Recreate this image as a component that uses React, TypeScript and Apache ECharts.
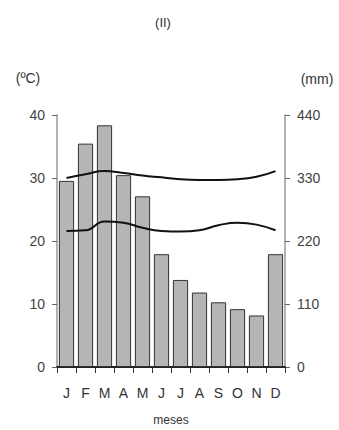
import React, { useEffect, useRef } from "react";
import * as echarts from "echarts";

const months = ["J", "F", "M", "A", "M", "J", "J", "A", "S", "O", "N", "D"];
const precipitation = [325, 390, 422, 335, 298, 197, 152, 130, 113, 101, 90, 197];
const tempUpper = [30.0, 30.6, 31.1, 30.8, 30.4, 30.1, 29.8, 29.7, 29.7, 29.8, 30.2, 31.1];
const tempLower = [21.6, 21.7, 23.1, 22.9, 22.1, 21.6, 21.5, 21.7, 22.5, 22.9, 22.6, 21.7];
const title = "(II)";
const leftUnit = "(ºC)";
const rightUnit = "(mm)";
const xName = "meses";

export default function App() {
  const ref = useRef<HTMLDivElement>(null);
  useEffect(() => {
    if (!ref.current) return;
    const chart = echarts.init(ref.current, null, { renderer: "svg" });
    const font = "'Liberation Sans', Arial, sans-serif";
    chart.setOption({
      animation: false,
      textStyle: { fontFamily: font },
      graphic: [
        { type: "text", x: 163, y: 22, style: { text: title, fontSize: 13, fill: "#333", fontFamily: font, align: "center", verticalAlign: "middle" } },
        { type: "text", x: 28, y: 78, style: { text: leftUnit, fontSize: 14, fill: "#333", fontFamily: font, align: "center", verticalAlign: "middle" } },
        { type: "text", x: 317, y: 79, style: { text: rightUnit, fontSize: 14, fill: "#333", fontFamily: font, align: "center", verticalAlign: "middle" } },
      ],
      grid: { left: 57, right: 54, top: 115, bottom: 63, outerBoundsMode: "none", containLabel: false },
      xAxis: {
        type: "category",
        data: months,
        name: xName,
        nameLocation: "middle",
        nameGap: 47,
        nameTextStyle: { fontSize: 12, color: "#333" },
        axisLine: { lineStyle: { color: "#222", width: 2 } },
        axisTick: { show: true, length: 6, lineStyle: { color: "#333" } },
        axisLabel: { fontSize: 14, color: "#333", margin: 19 },
      },
      yAxis: [
        {
          type: "value",
          min: 0,
          max: 40,
          interval: 10,
          position: "left",
          axisLine: { show: true, lineStyle: { color: "#999", width: 1.5 } },
          axisTick: { show: true, length: 5, lineStyle: { color: "#666" } },
          axisLabel: { fontSize: 14, color: "#444", margin: 12 },
          splitLine: { show: false },
        },
        {
          type: "value",
          min: 0,
          max: 440,
          interval: 110,
          position: "right",
          axisLine: { show: true, lineStyle: { color: "#999", width: 1.5 } },
          axisTick: { show: true, length: 5, lineStyle: { color: "#666" } },
          axisLabel: { fontSize: 14, color: "#444", margin: 12 },
          splitLine: { show: false },
        },
      ],
      series: [
        {
          type: "bar",
          yAxisIndex: 1,
          data: precipitation,
          barCategoryGap: "20%",
          itemStyle: { color: "#b5b5b5", borderColor: "#333", borderWidth: 1 },
        },
        {
          type: "line",
          yAxisIndex: 0,
          data: tempUpper,
          smooth: 0.5,
          symbol: "none",
          lineStyle: { color: "#111", width: 2 },
        },
        {
          type: "line",
          yAxisIndex: 0,
          data: tempLower,
          smooth: 0.5,
          symbol: "none",
          lineStyle: { color: "#111", width: 2 },
        },
      ],
    });
    return () => chart.dispose();
  }, []);
  return <div ref={ref} style={{ width: 339, height: 430, position: "absolute", left: 0, top: 0 }} />;
}
